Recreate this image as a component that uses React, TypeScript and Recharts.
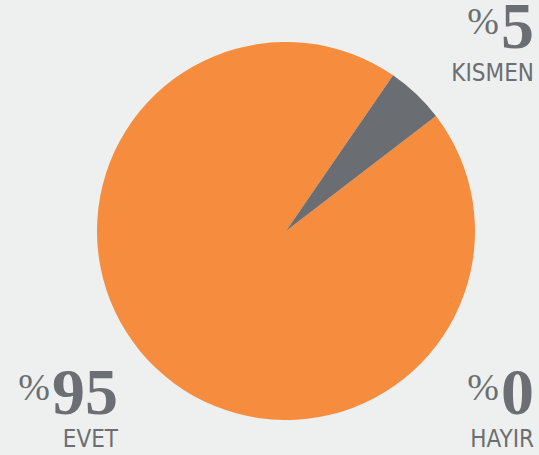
import React from "react";
import { PieChart, Pie, Cell } from "recharts";

const categories = ["EVET", "KISMEN", "HAYIR"];
const values = [95, 5, 0];
const colors = ["#F68C3D", "#6A6D71", "#B9BBBD"];

const data = categories.map((name, i) => ({ name, value: values[i] }));

const BG = "#EEF0EF";
const TEXT = "#6B6E72";

const labelPos: Record<string, { x: number; y: number }> = {
  KISMEN: { x: 534, y: 48 },
  EVET: { x: 118, y: 414 },
  HAYIR: { x: 534, y: 414 },
};

export default function App() {
  return (
    <div
      style={{
        position: "fixed",
        left: 0,
        top: 0,
        width: 539,
        height: 455,
        background: BG,
        overflow: "hidden",
      }}
    >
      <PieChart width={539} height={455} margin={{ top: 0, right: 0, bottom: 0, left: 0 }}>
        <Pie
          data={data}
          dataKey="value"
          nameKey="name"
          cx={286}
          cy={231}
          outerRadius={189}
          innerRadius={0}
          startAngle={37.5}
          endAngle={-322.5}
          stroke="none"
          isAnimationActive={false}
        >
          {data.map((d, i) => (
            <Cell key={d.name} fill={colors[i]} />
          ))}
        </Pie>
      </PieChart>
      <svg
        width={539}
        height={455}
        style={{ position: "absolute", left: 0, top: 0, pointerEvents: "none" }}
      >
        {data.map((d) => {
          const p = labelPos[d.name];
          return (
            <g key={d.name}>
              <text x={p.x} y={p.y} textAnchor="end" fill={TEXT}>
                <tspan
                  dy={-14}
                  style={{ fontFamily: "'Liberation Serif', serif", fontSize: 38 }}
                >
                  %
                </tspan>
                <tspan
                  dx={2}
                  dy={14}
                  style={{ fontFamily: "'Liberation Serif', serif", fontSize: 66, fontWeight: 700 }}
                >
                  {d.value}
                </tspan>
              </text>
              <text
                x={p.x}
                y={p.y + 33}
                textAnchor="end"
                fill={TEXT}
                style={{ fontFamily: "'DejaVu Sans Condensed', 'DejaVu Sans', sans-serif", fontSize: 24 }}
              >
                {d.name}
              </text>
            </g>
          );
        })}
      </svg>
    </div>
  );
}
